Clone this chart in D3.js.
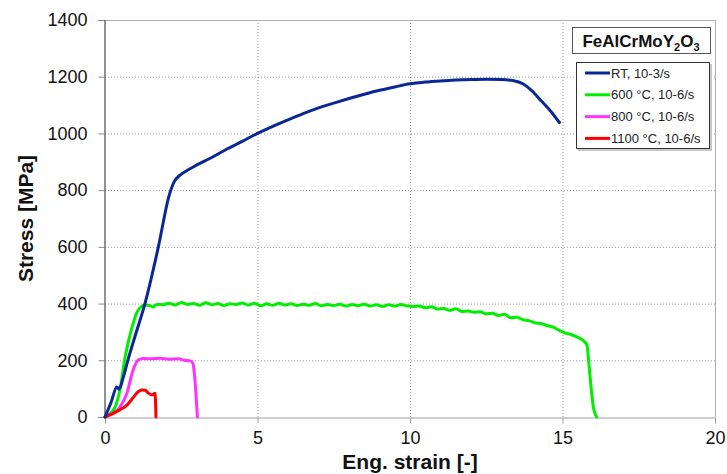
<!DOCTYPE html>
<html>
<head>
<meta charset="utf-8">
<script src="https://cdn.jsdelivr.net/npm/d3@7"></script>
<style>
  html, body { margin: 0; padding: 0; background: #fff; }
  svg { display: block; font-family: "Liberation Sans", Arial, sans-serif; }
  .grid line { stroke: #9a9a9a; stroke-width: 1; stroke-dasharray: 1,2; }
  .tick-label { font-size: 18px; fill: #111; }
  .axis-title { font-size: 21px; font-weight: bold; fill: #111; }
  .legend-text { font-size: 13px; fill: #222; }
  .curve { fill: none; stroke-width: 3; stroke-linejoin: round; stroke-linecap: round; }
</style>
</head>
<body>
<svg id="chart" width="727" height="474"></svg>
<script>
// Engineering stress-strain curves, [strain %, stress MPa].
const RT_CURVE = [
  [0, 0], [0.2, 52], [0.39, 106], [0.46, 98], [0.6, 140], [0.75, 200], [1.0, 290],
  [1.31, 400], [1.75, 600], [2.1, 780], [2.27, 830], [2.45, 852], [2.7, 870],
  [3.0, 888], [3.5, 915], [4.0, 945], [4.5, 972], [5.0, 1000], [5.5, 1025],
  [6.0, 1048], [6.5, 1070], [7.0, 1090], [7.5, 1107], [8.0, 1123], [8.5, 1138],
  [9.0, 1152], [9.5, 1164], [10.0, 1175], [10.5, 1181], [11.0, 1185], [11.5, 1188],
  [12.0, 1190], [12.5, 1191], [13.0, 1190], [13.4, 1186], [13.7, 1175],
  [14.0, 1150], [14.3, 1115], [14.6, 1080], [14.9, 1038]
];

const C600_CURVE = [
  [0, 0], [0.2, 15], [0.35, 40], [0.49, 95], [0.66, 212], [0.89, 318], [1.05, 370],
  [1.2, 390], [1.31, 395], [1.5, 392], [1.57, 388], [1.7, 397], [1.9, 396],
  [2.1, 401], [2.3, 395], [2.5, 404], [2.7, 397], [2.9, 400], [3.1, 394],
  [3.3, 403], [3.5, 396], [3.7, 400], [3.9, 393], [4.1, 399], [4.3, 397],
  [4.5, 402], [4.7, 395], [4.9, 401], [5.1, 392], [5.3, 399], [5.5, 394],
  [5.7, 401], [5.9, 395], [6.1, 399], [6.3, 393], [6.5, 398], [6.7, 394],
  [6.9, 400], [7.1, 392], [7.3, 397], [7.5, 393], [7.7, 398], [7.9, 391],
  [8.1, 397], [8.3, 392], [8.5, 398], [8.7, 391], [8.9, 396], [9.1, 390],
  [9.3, 396], [9.5, 391], [9.7, 397], [9.9, 392], [10.1, 390], [10.3, 391],
  [10.5, 385], [10.7, 389], [10.9, 381], [11.1, 383], [11.3, 376], [11.5, 382],
  [11.7, 372], [11.9, 374], [12.1, 369], [12.3, 371], [12.5, 364], [12.7, 366],
  [12.9, 358], [13.1, 362], [13.3, 350], [13.5, 352], [13.7, 343], [13.9, 340],
  [14.1, 332], [14.3, 330], [14.5, 322], [14.7, 317], [14.9, 305], [15.1, 296],
  [15.3, 290], [15.5, 281], [15.7, 268], [15.8, 254], [15.88, 170], [15.95, 90],
  [16.02, 30], [16.12, 0]
];

const C800_CURVE = [
  [0, 0], [0.25, 12], [0.49, 35], [0.72, 85], [0.92, 165], [1.08, 200],
  [1.25, 206], [1.5, 205], [1.8, 207], [2.1, 204], [2.4, 205], [2.6, 200],
  [2.8, 198], [2.88, 190], [2.95, 130], [3.0, 50], [3.03, 0]
];

const C1100_CURVE = [
  [0, 0], [0.27, 13], [0.5, 26], [0.72, 42], [0.9, 65], [1.05, 85], [1.21, 95],
  [1.32, 94], [1.41, 85], [1.54, 78], [1.64, 84], [1.66, 40], [1.67, 0]
];

const SERIES = [
  { label: '600 °C, 10-6/s',  color: '#00ee00', data: C600_CURVE },
  { label: '800 °C, 10-6/s',  color: '#ff33ff', data: C800_CURVE },
  { label: '1100 °C, 10-6/s', color: '#ff0000', data: C1100_CURVE },
  { label: 'RT, 10-3/s',      color: '#0a2796', data: RT_CURVE }
];

const LEGEND_ORDER = ['RT, 10-3/s', '600 °C, 10-6/s', '800 °C, 10-6/s', '1100 °C, 10-6/s'];

const X_TICKS = [0, 5, 10, 15, 20];
const Y_TICKS = [0, 200, 400, 600, 800, 1000, 1200, 1400];

function render() {
  const svg = d3.select('#chart');
  const margin = { top: 20, right: 12, bottom: 57, left: 105 };
  const W = 727, H = 474;
  const plotW = W - margin.left - margin.right;
  const plotH = H - margin.top - margin.bottom;

  const x = d3.scaleLinear().domain([0, 20]).range([margin.left, margin.left + plotW]);
  const y = d3.scaleLinear().domain([0, 1400]).range([margin.top + plotH, margin.top]);

  // Dotted grid, skipping the frame edges
  const grid = svg.append('g').attr('class', 'grid');
  Y_TICKS.filter(t => t > 0 && t < 1400).forEach(t => {
    grid.append('line')
      .attr('x1', x(0)).attr('x2', x(20))
      .attr('y1', y(t) + 0.5).attr('y2', y(t) + 0.5);
  });
  X_TICKS.filter(t => t > 0 && t < 20).forEach(t => {
    grid.append('line')
      .attr('x1', x(t) + 0.5).attr('x2', x(t) + 0.5)
      .attr('y1', y(0)).attr('y2', y(1400));
  });

  // Frame: top and right are light grey
  svg.append('line').attr('x1', x(0)).attr('x2', x(20) + 0.5)
    .attr('y1', y(1400) + 0.5).attr('y2', y(1400) + 0.5)
    .attr('stroke', '#b0b0b0');
  svg.append('line').attr('x1', x(20) + 0.5).attr('x2', x(20) + 0.5)
    .attr('y1', y(1400)).attr('y2', y(0))
    .attr('stroke', '#b0b0b0');

  // X axis
  const xAxis = d3.axisBottom(x).tickValues(X_TICKS).tickSize(6).tickPadding(8);
  const gx = svg.append('g')
    .attr('transform', `translate(0, ${y(0) + 0.5})`)
    .call(xAxis);
  gx.select('.domain').attr('stroke', '#a0a0a0');
  gx.selectAll('.tick line').attr('stroke', '#a0a0a0');
  gx.selectAll('.tick text')
    .attr('class', 'tick-label')
    .attr('font-family', null).attr('font-size', null);

  // Y axis
  const yAxis = d3.axisLeft(y).tickValues(Y_TICKS).tickFormat(d3.format('d'))
    .tickSize(6).tickPadding(11);
  const gy = svg.append('g')
    .attr('transform', `translate(${x(0) - 0.5}, 0)`)
    .call(yAxis);
  gy.select('.domain').attr('stroke', '#222');
  gy.selectAll('.tick line').attr('stroke', '#888');
  gy.selectAll('.tick text')
    .attr('class', 'tick-label')
    .attr('font-family', null).attr('font-size', null);

  // Axis titles
  svg.append('text')
    .attr('class', 'axis-title')
    .attr('x', x(10)).attr('y', 469)
    .attr('text-anchor', 'middle')
    .text('Eng. strain [-]');
  svg.append('text')
    .attr('class', 'axis-title')
    .attr('transform', `translate(33, ${(y(0) + y(1400)) / 2}) rotate(-90)`)
    .attr('text-anchor', 'middle')
    .text('Stress [MPa]');

  // Curves
  const line = d3.line()
    .x(d => x(d[0]))
    .y(d => y(d[1]))
    .curve(d3.curveMonotoneX);
  SERIES.forEach(s => {
    svg.append('path')
      .attr('class', 'curve')
      .attr('stroke', s.color)
      .attr('d', line(s.data));
  });

  // Legend title box
  const tg = svg.append('g');
  tg.append('rect')
    .attr('x', 572.5).attr('y', 27.5).attr('width', 138).attr('height', 26)
    .attr('fill', '#fff').attr('stroke', '#555');
  const tt = tg.append('text')
    .attr('x', 641).attr('y', 47)
    .attr('text-anchor', 'middle')
    .attr('font-size', 17).attr('font-weight', 'bold').attr('fill', '#111');
  tt.append('tspan').text('FeAlCrMoY');
  tt.append('tspan').attr('font-size', 11).attr('dy', 4).text('2');
  tt.append('tspan').attr('dy', -4).text('O');
  tt.append('tspan').attr('font-size', 11).attr('dy', 4).text('3');

  // Legend
  const lg = svg.append('g');
  lg.append('rect')
    .attr('x', 578).attr('y', 64).attr('width', 134).attr('height', 87)
    .attr('fill', '#c8c8c8');
  lg.append('rect')
    .attr('x', 576.5).attr('y', 62.5).attr('width', 133).attr('height', 86)
    .attr('fill', '#fff').attr('stroke', '#333');
  LEGEND_ORDER.forEach((label, i) => {
    const s = SERIES.find(d => d.label === label);
    const ly = 73 + i * 21.8;
    lg.append('line')
      .attr('x1', 585).attr('x2', 610)
      .attr('y1', ly).attr('y2', ly)
      .attr('stroke', s.color).attr('stroke-width', 3);
    lg.append('text')
      .attr('class', 'legend-text')
      .attr('x', 611).attr('y', ly + 4.5)
      .text(label);
  });
}

render();
</script>
</body>
</html>
